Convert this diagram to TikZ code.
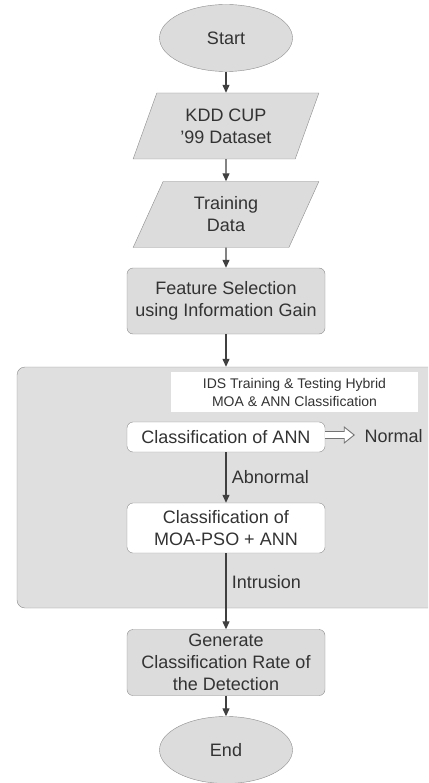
\documentclass[tikz,border=0pt]{standalone}
\usepackage{fontspec}
\setmainfont{Liberation Sans}
\usetikzlibrary{arrows.meta,shapes.geometric}
\tikzset{>={Triangle[width=7pt,length=8pt]}}
\definecolor{boxgray}{HTML}{DCDCDC}
\definecolor{panelgray}{HTML}{DFDFDF}

\begin{document}
\begin{tikzpicture}[x=1pt,y=-1pt,
    every node/.style={font=\fontsize{18}{22}\selectfont,text=black!80,align=center},
    term/.style={draw=black!45,fill=boxgray,ellipse,minimum width=133,minimum height=67},
    data/.style={draw=black!45,fill=boxgray,trapezium,trapezium left angle=68,trapezium right angle=112,
      trapezium stretches=true,minimum width=186,minimum height=66},
    proc/.style={draw=black!45,fill=boxgray,rounded corners=6,minimum width=198,minimum height=66},
    inproc/.style={proc,fill=white},
    line/.style={draw=black!75,line width=1.2pt}]
  \clip (0,0) rectangle (428,783);

  \node[term] (start) at (226,38) {Start};
  \node[data] (kdd) at (226,126) {KDD CUP\\'99 Dataset};
  \node[data] (train) at (226,214.5) {Training\\Data};
  \node[proc] (feat) at (226,301) {Feature Selection\\using Information Gain};

  % hybrid MOA & ANN panel
  \node[draw=black!45,fill=panelgray,rounded corners=8,minimum width=423,minimum height=241] (ids) at (228.5,487.5) {};
  \node[fill=white,minimum width=247,minimum height=40,font=\fontsize{14}{18}\selectfont] (title) at (294.5,392)
    {IDS Training \& Testing Hybrid\\MOA \& ANN Classification};
  \node[inproc,minimum height=30] (ann) at (226,437) {Classification of ANN};
  \node[inproc,minimum height=50] (moa) at (226,528) {Classification of\\MOA-PSO + ANN};
  \node[anchor=west] (normal) at (361,436) {Normal};
  \draw[draw=black!55,fill=white,line width=0.9pt] (ann.east) ++(0,-5.5) -- ++(19,0) -- ++(0,-4.5)
    -- ++(10,8) -- ++(-10,8) -- ++(0,-4.5) -- ++(-19,0);

  \node[proc] (gen) at (226,662.5) {Generate\\Classification Rate of\\the Detection};
  \node[term] (end) at (226,750) {End};

  \draw[->,line] (start) -- (kdd);
  \draw[->,line] (kdd) -- (train);
  \draw[->,line] (train) -- (feat);
  \draw[->,line] (feat) -- (feat |- ids.north);
  \draw[->,line] (ann) -- node[right,xshift=2] {Abnormal} (moa);
  \draw[->,line] (moa) -- node[right,pos=0.38,xshift=2] {Intrusion} (gen);
  \draw[->,line] (gen) -- (end);
\end{tikzpicture}
\end{document}
